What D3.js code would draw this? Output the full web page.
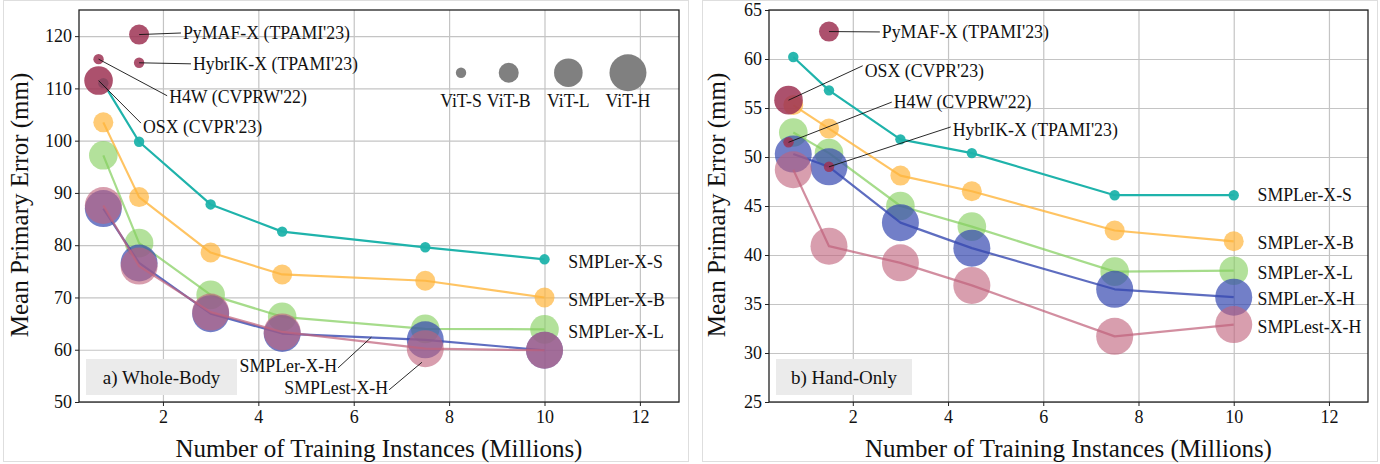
<!DOCTYPE html>
<html lang="en">
<head>
<meta charset="UTF-8">
<title>SMPLer-X scaling</title>
<style>
  body { margin: 0; padding: 0; background: #fff; }
  svg text { font-family: "Liberation Serif", "Times New Roman", serif; fill: #111; }
  .grid line { stroke: #c4c4c4; stroke-width: 1.2; }
  .grid path { display: none; }
  .axis path { display: none; }
  .axis line { stroke: #222; }
  .axis text { font-size: 18px; }
</style>
</head>
<body>
<div id="chart"></div>
<script src="https://d3js.org/d3.v7.min.js"></script>
<script>
// training set sizes (millions)
const trainSizes = [0.75, 1.5, 3, 4.5, 7.5, 10];
const seriesNames = ["SMPLer-X-S", "SMPLer-X-B", "SMPLer-X-L", "SMPLer-X-H", "SMPLest-X-H"];
const seriesBackbones = ["S", "B", "L", "H", "H"];

// a) whole-body errors
const wbSmplerS = [111.0, 99.8, 87.8, 82.6, 79.6, 77.3];
const wbSmplerB = [103.5, 89.2, 78.6, 74.4, 73.2, 70.0];
const wbSmplerL = [97.2, 80.4, 70.5, 66.3, 64.0, 63.9];
const wbSmplerH = [87.0, 76.6, 66.9, 63.1, 61.9, 59.9];
const wbSmplestH = [87.6, 76.0, 67.2, 63.4, 60.2, 59.9];

// b) hand-only errors
const hoSmplerS = [60.2, 56.8, 51.8, 50.4, 46.1, 46.1];
const hoSmplerB = [55.3, 52.9, 48.1, 46.5, 42.5, 41.4];
const hoSmplerL = [52.5, 50.4, 45.0, 42.9, 38.3, 38.4];
const hoSmplerH = [50.3, 49.0, 43.3, 40.7, 36.5, 35.7];
const hoSmplestH = [48.7, 40.9, 39.2, 36.9, 31.7, 32.9];

// earlier methods
const baselineNames = ["PyMAF-X (TPAMI'23)", "HybrIK-X (TPAMI'23)", "H4W (CVPRW'22)", "OSX (CVPR'23)"];
const baselineBackbones = ["B", "S", "S", "L"];
const baselineSizes = [1.5, 1.5, 0.65, 0.65];
const wbBaseline = [120.3, 114.9, 115.6, 111.5];
const hoBaseline = [62.8, 49.0, 51.5, 55.8];

const backboneNames = ["ViT-S", "ViT-B", "ViT-L", "ViT-H"];
const xTicks = [2, 4, 6, 8, 10, 12];
const wbYTicks = [50, 60, 70, 80, 90, 100, 110, 120];
const hoYTicks = [25, 30, 35, 40, 45, 50, 55, 60, 65];

const colors = ["#1fb3ab", "#ffb53c", "#84cf5e", "#3649b0", "#c0637c"];
const opac = [0.95, 0.7, 0.62, 0.7, 0.62];
const baseColor = "#9e3353";
const radius = d3.scaleOrdinal().domain(["S", "B", "L", "H"]).range([5.2, 10, 14.3, 18.5]);

const svg = d3.select("#chart").append("svg")
  .attr("width", 1380).attr("height", 464);

function panel(cfg) {
  const x = d3.scaleLinear().domain([0.24, 12.82]).range([cfg.left, cfg.right]);
  const y = d3.scaleLinear().domain(cfg.yDomain).range([402, 10]);
  const g = svg.append("g");

  // outer light frame
  g.append("rect")
    .attr("x", cfg.boxX).attr("y", 0.5).attr("width", cfg.boxW).attr("height", 461)
    .attr("fill", "none").attr("stroke", "#dedede");

  // grid
  g.append("g").attr("class", "grid").attr("transform", "translate(0,402)")
    .call(d3.axisBottom(x).tickValues(xTicks).tickSize(-392).tickFormat(""));
  g.append("g").attr("class", "grid").attr("transform", `translate(${cfg.left},0)`)
    .call(d3.axisLeft(y).tickValues(cfg.yTicks).tickSize(-(cfg.right - cfg.left)).tickFormat(""));

  // series
  const line = d3.line().x((d, i) => x(trainSizes[i])).y(d => y(d));
  cfg.series.forEach((vals, s) => {
    g.append("path").datum(vals)
      .attr("d", line).attr("fill", "none")
      .attr("stroke", colors[s]).attr("stroke-opacity", Math.min(1, opac[s] + 0.1))
      .attr("stroke-width", 2.2).attr("stroke-linejoin", "round");
    g.selectAll(null).data(vals).enter().append("circle")
      .attr("cx", (d, i) => x(trainSizes[i])).attr("cy", d => y(d))
      .attr("r", radius(seriesBackbones[s]))
      .attr("fill", colors[s]).attr("fill-opacity", opac[s]);
  });

  // baselines + annotations
  const ann = g.append("g").style("font-size", "17.8px");
  cfg.baseline.forEach((v, i) => {
    const cx = x(baselineSizes[i]), cy = y(v);
    const a = cfg.baseLabels[i];
    const tx = x(a[0]), ty = y(a[1]);
    ann.append("line").attr("x1", cx).attr("y1", cy)
      .attr("x2", tx - 2).attr("y2", ty + a[2])
      .attr("stroke", "#111").attr("stroke-width", 0.9);
    g.append("circle").attr("cx", cx).attr("cy", cy)
      .attr("r", radius(baselineBackbones[i]))
      .attr("fill", baseColor).attr("fill-opacity", 0.85);
    ann.append("text").attr("x", tx).attr("y", ty).attr("dy", "0.35em").text(baselineNames[i]);
  });
  ann.raise();

  // series labels on right
  cfg.seriesLabels.forEach(l => {
    g.append("text").style("font-size", "17.8px")
      .attr("x", x(l[1])).attr("y", y(l[2])).attr("dy", "0.35em")
      .attr("text-anchor", l[3] || "start").text(seriesNames[l[0]]);
    if (l[4]) {
      g.append("line").attr("x1", x(l[1]) + 1).attr("y1", y(l[2]) + 2)
        .attr("x2", x(l[4][0])).attr("y2", y(l[4][1]))
        .attr("stroke", "#111").attr("stroke-width", 0.9);
    }
  });

  // ViT legend
  if (cfg.legend) {
    const lx = [8.25, 9.25, 10.5, 11.75];
    backboneNames.forEach((n, i) => {
      const b = n.slice(4);
      g.append("circle").attr("cx", x(lx[i])).attr("cy", y(113)).attr("r", radius(b))
        .attr("fill", "#808080");
      g.append("text").attr("x", x(lx[i])).attr("y", y(113) + 28).attr("dy", "0.35em")
        .attr("text-anchor", "middle").style("font-size", "17.8px").text(n);
    });
  }

  // panel tag
  g.append("rect").attr("x", cfg.left + 7).attr("y", 359).attr("width", cfg.tagW).attr("height", 36)
    .attr("fill", "#ebebeb");
  g.append("text").attr("x", cfg.left + 7 + cfg.tagW / 2).attr("y", 377).attr("dy", "0.35em")
    .attr("text-anchor", "middle").style("font-size", "19px").text(cfg.tag);

  // axes
  g.append("g").attr("class", "axis").attr("transform", "translate(0,402)")
    .call(d3.axisBottom(x).tickValues(xTicks).tickSize(4).tickPadding(4).tickSizeOuter(0));
  g.append("g").attr("class", "axis").attr("transform", `translate(${cfg.left},0)`)
    .call(d3.axisLeft(y).tickValues(cfg.yTicks).tickSize(4).tickPadding(3).tickSizeOuter(0));

  g.append("rect").attr("x", cfg.left).attr("y", 10)
    .attr("width", cfg.right - cfg.left).attr("height", 392)
    .attr("fill", "none").attr("stroke", "#222").attr("stroke-width", 1.3);

  g.append("text").attr("x", (cfg.left + cfg.right) / 2).attr("y", 448).attr("dy", "0.35em")
    .attr("text-anchor", "middle").style("font-size", "25px")
    .text("Number of Training Instances (Millions)");
  g.append("text").attr("transform", `translate(${cfg.left - cfg.titleOff},205) rotate(-90)`)
    .attr("dy", "0.35em").attr("text-anchor", "middle").style("font-size", "25px")
    .text("Mean Primary Error (mm)");
}

panel({
  left: 79, right: 679, boxX: 3.5, boxW: 685, titleOff: 60,
  yDomain: [50, 125], yTicks: wbYTicks,
  series: [wbSmplerS, wbSmplerB, wbSmplerL, wbSmplerH, wbSmplestH],
  baseline: wbBaseline,
  baseLabels: [[2.42, 120.6, 0], [2.63, 114.7, 0], [2.13, 108.4, -1], [1.58, 102.6, -4]],
  seriesLabels: [[0, 10.5, 76.8], [1, 10.5, 69.5], [2, 10.5, 63.45],
                 [3, 5.65, 56.9, "end", [6.37, 62.4]], [4, 6.72, 52.7, "end", [7.43, 57.6]]],
  legend: true, tag: "a) Whole-Body", tagW: 151
});

panel({
  left: 769, right: 1368, boxX: 702.5, boxW: 675, titleOff: 53,
  yDomain: [25, 65], yTicks: hoYTicks,
  series: [hoSmplerS, hoSmplerB, hoSmplerL, hoSmplerH, hoSmplestH],
  baseline: hoBaseline,
  baseLabels: [[2.61, 62.76, 0], [4.10, 52.76, -3], [2.86, 55.6, 0], [2.25, 58.8, -5]],
  seriesLabels: [[0, 10.5, 46.1], [1, 10.5, 41.2], [2, 10.5, 38.16], [3, 10.5, 35.5], [4, 10.5, 32.65]],
  legend: false, tag: "b) Hand-Only", tagW: 136
});
</script>
</body>
</html>
